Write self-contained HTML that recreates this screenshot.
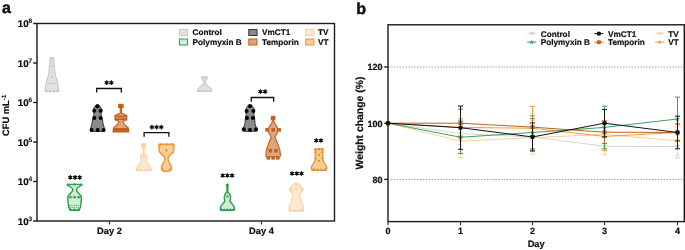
<!DOCTYPE html>
<html><head><meta charset="utf-8"><style>
html,body{margin:0;padding:0;background:#fff;}
svg{display:block;}
text{font-family:"Liberation Sans",sans-serif;font-weight:bold;fill:#111;text-rendering:geometricPrecision;stroke:#111;stroke-width:0.2px;}
.t9{font-size:9px;}
.t8{font-size:8.2px;}
.t93{font-size:9.3px;}
.t95{font-size:9.8px;}
.t104{font-size:10.4px;}
.t10{font-size:10px;}
.t5{font-size:6.5px;stroke-width:0.1px;}
.t6{font-size:6.3px;stroke-width:0.12px;}
.ast{font-size:12px;stroke:#111;stroke-width:0.35px;}
.lab{font-size:16px;stroke-width:0.5px;}
</style></head><body>
<div style="will-change:transform;width:685px;height:250px"><svg width="685" height="250" viewBox="0 0 685 250">
<text x="2" y="13.3" class="lab">a</text>
<text x="356.2" y="13.6" class="lab">b</text>
<path d="M53.10,57.60 L53.70,58.20 L54.10,64.00 L54.50,68.00 L54.90,72.00 L55.50,76.00 L56.50,78.00 L57.50,82.00 L58.30,86.00 L58.70,89.20 L58.70,91.30 L45.10,91.30 L45.10,89.20 L45.50,86.00 L46.30,82.00 L47.30,78.00 L48.30,76.00 L48.90,72.00 L49.30,68.00 L49.70,64.00 L50.10,58.20 L50.70,57.60 Z" fill="#e1e1e1" stroke="#c9c9c9" stroke-width="1.1" stroke-linejoin="round"/>
<path d="M81.60,184.40 L81.20,185.20 L79.60,186.40 L77.20,188.00 L76.40,189.60 L76.80,191.00 L78.00,192.60 L79.80,194.40 L80.90,196.00 L81.40,197.20 L81.30,200.00 L81.00,203.00 L80.70,206.00 L80.20,208.00 L79.40,209.50 L78.80,210.20 L70.40,210.20 L69.80,209.50 L69.00,208.00 L68.50,206.00 L68.20,203.00 L67.90,200.00 L67.80,197.20 L68.30,196.00 L69.40,194.40 L71.20,192.60 L72.40,191.00 L72.80,189.60 L72.00,188.00 L69.60,186.40 L68.00,185.20 L67.60,184.40 Z" fill="#d3ecd9" stroke="#2e9e50" stroke-width="1.4" stroke-linejoin="round"/>
<path d="M98.30,104.60 L99.10,105.00 L100.10,106.50 L101.40,108.50 L101.90,110.50 L101.50,112.50 L101.00,114.00 L101.40,116.00 L102.10,118.00 L102.70,121.00 L103.10,124.00 L104.00,127.00 L104.60,129.50 L104.60,131.40 L90.40,131.40 L90.40,129.50 L91.00,127.00 L91.90,124.00 L92.30,121.00 L92.90,118.00 L93.60,116.00 L94.00,114.00 L93.50,112.50 L93.10,110.50 L93.60,108.50 L94.90,106.50 L95.90,105.00 L96.70,104.60 Z" fill="#8a8a8a" stroke="#2a2a2a" stroke-width="0.9" stroke-linejoin="round"/>
<path d="M123.00,104.20 L123.00,107.80 L121.50,107.80 L121.50,113.20 L123.70,114.00 L126.80,115.60 L126.80,120.00 L124.50,120.40 L123.00,122.00 L123.70,123.60 L126.10,126.00 L128.30,128.00 L128.80,132.00 L113.00,132.00 L113.50,128.00 L115.70,126.00 L118.10,123.60 L118.80,122.00 L117.30,120.40 L115.00,120.00 L115.00,115.60 L118.10,114.00 L120.30,113.20 L120.30,107.80 L118.80,107.80 L118.80,104.20 Z" fill="#dea57a" stroke="#c0601a" stroke-width="1.1" stroke-linejoin="round"/>
<path d="M145.60,143.80 L145.60,147.00 L144.15,147.30 L144.20,153.50 L145.90,154.50 L146.70,155.50 L146.90,157.50 L146.30,159.00 L146.10,160.50 L147.10,162.50 L148.30,164.50 L149.90,166.50 L151.10,168.50 L151.10,170.50 L136.30,170.50 L136.30,168.50 L137.50,166.50 L139.10,164.50 L140.30,162.50 L141.30,160.50 L141.10,159.00 L140.50,157.50 L140.70,155.50 L141.50,154.50 L143.20,153.50 L143.25,147.30 L141.80,147.00 L141.80,143.80 Z" fill="#fde8d0" stroke="#fad3a4" stroke-width="1.1" stroke-linejoin="round"/>
<path d="M173.70,144.20 L174.00,145.00 L173.80,150.00 L173.20,152.00 L172.00,153.50 L170.20,155.00 L168.80,156.50 L168.20,158.00 L168.10,160.00 L169.00,162.00 L170.20,164.00 L171.00,166.00 L171.40,168.00 L171.20,169.50 L170.40,170.50 L169.20,171.20 L163.60,171.20 L162.40,170.50 L161.60,169.50 L161.40,168.00 L161.80,166.00 L162.60,164.00 L163.80,162.00 L164.70,160.00 L164.60,158.00 L164.00,156.50 L162.60,155.00 L160.80,153.50 L159.60,152.00 L159.00,150.00 L158.80,145.00 L159.10,144.20 Z" fill="#f9cd98" stroke="#ef952f" stroke-width="1.4" stroke-linejoin="round"/>
<path d="M207.50,76.80 L207.30,78.50 L206.00,80.40 L205.30,82.00 L205.30,83.60 L207.00,85.20 L209.40,87.20 L211.20,88.80 L211.90,90.30 L211.40,91.20 L197.80,91.20 L197.30,90.30 L198.00,88.80 L199.80,87.20 L202.20,85.20 L203.90,83.60 L203.90,82.00 L203.20,80.40 L201.90,78.50 L201.70,76.80 Z" fill="#e1e1e1" stroke="#c9c9c9" stroke-width="1.1" stroke-linejoin="round"/>
<path d="M227.80,185.50 L227.80,187.50 L227.90,192.30 L229.20,193.50 L230.10,194.80 L230.60,198.00 L229.80,201.00 L231.50,203.20 L233.40,205.40 L234.40,207.50 L234.40,209.50 L233.80,210.30 L221.00,210.30 L220.40,209.50 L220.40,207.50 L221.40,205.40 L223.30,203.20 L225.00,201.00 L224.20,198.00 L224.70,194.80 L225.60,193.50 L226.90,192.30 L227.00,187.50 L227.00,185.50 Z" fill="#d3ecd9" stroke="#2e9e50" stroke-width="1.4" stroke-linejoin="round"/>
<path d="M250.80,104.60 L251.60,105.00 L252.60,106.50 L253.90,108.50 L254.50,111.00 L254.00,113.00 L253.90,114.80 L254.60,118.00 L254.80,120.50 L255.10,123.80 L256.30,127.60 L256.90,129.50 L256.90,131.30 L243.10,131.30 L243.10,129.50 L243.70,127.60 L244.90,123.80 L245.20,120.50 L245.40,118.00 L246.10,114.80 L246.00,113.00 L245.50,111.00 L246.10,108.50 L247.40,106.50 L248.40,105.00 L249.20,104.60 Z" fill="#8a8a8a" stroke="#2a2a2a" stroke-width="0.9" stroke-linejoin="round"/>
<path d="M274.85,116.20 L274.85,119.70 L273.90,119.70 L273.90,122.00 L275.40,124.60 L277.30,127.20 L278.10,129.90 L277.50,132.50 L275.90,135.20 L275.00,137.40 L276.50,140.70 L278.10,145.20 L279.80,149.70 L280.40,154.20 L280.30,156.20 L279.70,156.80 L266.50,156.80 L265.90,156.20 L265.80,154.20 L266.40,149.70 L268.10,145.20 L269.70,140.70 L271.20,137.40 L270.30,135.20 L268.70,132.50 L268.10,129.90 L268.90,127.20 L270.80,124.60 L272.30,122.00 L272.30,119.70 L271.35,119.70 L271.35,116.20 Z" fill="#dea57a" stroke="#c0601a" stroke-width="1.1" stroke-linejoin="round"/>
<path d="M298.10,183.20 L299.50,184.80 L301.40,186.80 L303.30,189.00 L302.40,191.30 L300.10,193.80 L299.50,196.40 L300.70,198.80 L301.80,202.60 L303.30,206.40 L303.70,209.00 L303.30,211.00 L289.30,211.00 L288.90,209.00 L289.30,206.40 L290.80,202.60 L291.90,198.80 L293.10,196.40 L292.50,193.80 L290.20,191.30 L289.30,189.00 L291.20,186.80 L293.10,184.80 L294.50,183.20 Z" fill="#fde8d0" stroke="#fad3a4" stroke-width="1.1" stroke-linejoin="round"/>
<path d="M323.00,149.00 L322.35,152.00 L322.75,155.00 L322.35,158.00 L323.10,161.00 L325.00,164.00 L326.50,166.50 L326.50,169.00 L326.00,170.30 L312.00,170.30 L311.50,169.00 L311.50,166.50 L313.00,164.00 L314.90,161.00 L315.65,158.00 L315.25,155.00 L315.65,152.00 L315.00,149.00 Z" fill="#f9cd98" stroke="#ef952f" stroke-width="1.4" stroke-linejoin="round"/>
<circle cx="97.4" cy="106.4" r="2.0" fill="#000"/>
<circle cx="94.4" cy="110.8" r="2.0" fill="#000"/>
<circle cx="100.6" cy="110.8" r="2.0" fill="#000"/>
<circle cx="94.4" cy="118" r="2.0" fill="#000"/>
<circle cx="100.6" cy="118" r="2.0" fill="#000"/>
<circle cx="91.6" cy="130" r="2.0" fill="#000"/>
<circle cx="97.6" cy="130" r="2.0" fill="#000"/>
<circle cx="103.6" cy="130" r="2.0" fill="#000"/>
<circle cx="250" cy="106.2" r="2.0" fill="#000"/>
<circle cx="246.6" cy="110.9" r="2.0" fill="#000"/>
<circle cx="253.4" cy="110.9" r="2.0" fill="#000"/>
<circle cx="247" cy="118" r="2.0" fill="#000"/>
<circle cx="253" cy="118" r="2.0" fill="#000"/>
<circle cx="243.8" cy="129.3" r="2.0" fill="#000"/>
<circle cx="250" cy="130" r="2.0" fill="#000"/>
<circle cx="256" cy="129.3" r="2.0" fill="#000"/>
<path d="M67.80,182.70 L68.30,183.91 L69.61,184.01 L68.61,184.86 L68.92,186.14 L67.80,185.45 L66.68,186.14 L66.99,184.86 L65.99,184.01 L67.30,183.91 Z" fill="#2e9e50"/>
<path d="M74.60,182.50 L75.10,183.71 L76.41,183.81 L75.41,184.66 L75.72,185.94 L74.60,185.25 L73.48,185.94 L73.79,184.66 L72.79,183.81 L74.10,183.71 Z" fill="#2e9e50"/>
<path d="M81.40,182.70 L81.90,183.91 L83.21,184.01 L82.21,184.86 L82.52,186.14 L81.40,185.45 L80.28,186.14 L80.59,184.86 L79.59,184.01 L80.90,183.91 Z" fill="#2e9e50"/>
<path d="M70.40,195.30 L70.90,196.51 L72.21,196.61 L71.21,197.46 L71.52,198.74 L70.40,198.05 L69.28,198.74 L69.59,197.46 L68.59,196.61 L69.90,196.51 Z" fill="#2e9e50"/>
<path d="M74.60,195.30 L75.10,196.51 L76.41,196.61 L75.41,197.46 L75.72,198.74 L74.60,198.05 L73.48,198.74 L73.79,197.46 L72.79,196.61 L74.10,196.51 Z" fill="#2e9e50"/>
<path d="M78.80,195.30 L79.30,196.51 L80.61,196.61 L79.61,197.46 L79.92,198.74 L78.80,198.05 L77.68,198.74 L77.99,197.46 L76.99,196.61 L78.30,196.51 Z" fill="#2e9e50"/>
<path d="M70.60,207.70 L71.10,208.91 L72.41,209.01 L71.41,209.86 L71.72,211.14 L70.60,210.45 L69.48,211.14 L69.79,209.86 L68.79,209.01 L70.10,208.91 Z" fill="#2e9e50"/>
<path d="M74.60,208.00 L75.10,209.21 L76.41,209.31 L75.41,210.16 L75.72,211.44 L74.60,210.75 L73.48,211.44 L73.79,210.16 L72.79,209.31 L74.10,209.21 Z" fill="#2e9e50"/>
<path d="M78.60,207.70 L79.10,208.91 L80.41,209.01 L79.41,209.86 L79.72,211.14 L78.60,210.45 L77.48,211.14 L77.79,209.86 L76.79,209.01 L78.10,208.91 Z" fill="#2e9e50"/>
<path d="M227.30,182.80 L227.93,184.33 L229.58,184.46 L228.33,185.53 L228.71,187.14 L227.30,186.28 L225.89,187.14 L226.27,185.53 L225.02,184.46 L226.67,184.33 Z" fill="#2e9e50"/>
<path d="M227.40,194.60 L227.90,195.81 L229.21,195.91 L228.21,196.76 L228.52,198.04 L227.40,197.35 L226.28,198.04 L226.59,196.76 L225.59,195.91 L226.90,195.81 Z" fill="#2e9e50"/>
<path d="M221.40,207.70 L221.90,208.91 L223.21,209.01 L222.21,209.86 L222.52,211.14 L221.40,210.45 L220.28,211.14 L220.59,209.86 L219.59,209.01 L220.90,208.91 Z" fill="#2e9e50"/>
<path d="M224.40,208.10 L224.90,209.31 L226.21,209.41 L225.21,210.26 L225.52,211.54 L224.40,210.85 L223.28,211.54 L223.59,210.26 L222.59,209.41 L223.90,209.31 Z" fill="#2e9e50"/>
<path d="M227.40,208.10 L227.90,209.31 L229.21,209.41 L228.21,210.26 L228.52,211.54 L227.40,210.85 L226.28,211.54 L226.59,210.26 L225.59,209.41 L226.90,209.31 Z" fill="#2e9e50"/>
<path d="M230.40,208.10 L230.90,209.31 L232.21,209.41 L231.21,210.26 L231.52,211.54 L230.40,210.85 L229.28,211.54 L229.59,210.26 L228.59,209.41 L229.90,209.31 Z" fill="#2e9e50"/>
<path d="M233.40,207.70 L233.90,208.91 L235.21,209.01 L234.21,209.86 L234.52,211.14 L233.40,210.45 L232.28,211.14 L232.59,209.86 L231.59,209.01 L232.90,208.91 Z" fill="#2e9e50"/>
<path d="M160.2,143.0 L161.79999999999998,144.6 L160.2,146.2 L158.6,144.6 Z" fill="#ef952f"/>
<path d="M166.3,142.8 L167.9,144.4 L166.3,146.0 L164.70000000000002,144.4 Z" fill="#ef952f"/>
<path d="M172.3,143.0 L173.9,144.6 L172.3,146.2 L170.70000000000002,144.6 Z" fill="#ef952f"/>
<path d="M166.3,148.70000000000002 L167.9,150.3 L166.3,151.9 L164.70000000000002,150.3 Z" fill="#ef952f"/>
<path d="M162.3,168.0 L163.9,169.6 L162.3,171.2 L160.70000000000002,169.6 Z" fill="#ef952f"/>
<path d="M170.5,168.0 L172.1,169.6 L170.5,171.2 L168.9,169.6 Z" fill="#ef952f"/>
<path d="M315.3,148.0 L316.90000000000003,149.6 L315.3,151.2 L313.7,149.6 Z" fill="#ef952f"/>
<path d="M319,147.8 L320.6,149.4 L319,151.0 L317.4,149.4 Z" fill="#ef952f"/>
<path d="M322.7,148.0 L324.3,149.6 L322.7,151.2 L321.09999999999997,149.6 Z" fill="#ef952f"/>
<path d="M319,153.4 L320.6,155 L319,156.6 L317.4,155 Z" fill="#ef952f"/>
<path d="M315.5,150.6 L317.1,152.2 L315.5,153.79999999999998 L313.9,152.2 Z" fill="#ef952f"/>
<path d="M322.5,150.6 L324.1,152.2 L322.5,153.79999999999998 L320.9,152.2 Z" fill="#ef952f"/>
<path d="M315.4,156.6 L317.0,158.2 L315.4,159.79999999999998 L313.79999999999995,158.2 Z" fill="#ef952f"/>
<path d="M322.6,156.6 L324.20000000000005,158.2 L322.6,159.79999999999998 L321.0,158.2 Z" fill="#ef952f"/>
<path d="M319,159.4 L320.6,161 L319,162.6 L317.4,161 Z" fill="#ef952f"/>
<path d="M313.6,167.8 L315.20000000000005,169.4 L313.6,171.0 L312.0,169.4 Z" fill="#ef952f"/>
<path d="M317.5,168.3 L319.1,169.9 L317.5,171.5 L315.9,169.9 Z" fill="#ef952f"/>
<path d="M321.5,168.3 L323.1,169.9 L321.5,171.5 L319.9,169.9 Z" fill="#ef952f"/>
<path d="M325.4,167.8 L327.0,169.4 L325.4,171.0 L323.79999999999995,169.4 Z" fill="#ef952f"/>
<path d="M143.7,155.6 L145.1,157 L143.7,158.4 L142.29999999999998,157 Z" fill="#f8cf9c"/>
<path d="M137.5,168.79999999999998 L138.9,170.2 L137.5,171.6 L136.1,170.2 Z" fill="#f8cf9c"/>
<path d="M141.5,169.1 L142.9,170.5 L141.5,171.9 L140.1,170.5 Z" fill="#f8cf9c"/>
<path d="M145.5,169.1 L146.9,170.5 L145.5,171.9 L144.1,170.5 Z" fill="#f8cf9c"/>
<path d="M149.5,168.79999999999998 L150.9,170.2 L149.5,171.6 L148.1,170.2 Z" fill="#f8cf9c"/>
<path d="M296.3,183.2 L297.7,184.6 L296.3,186.0 L294.90000000000003,184.6 Z" fill="#f8cf9c"/>
<path d="M296.3,187.6 L297.7,189 L296.3,190.4 L294.90000000000003,189 Z" fill="#f8cf9c"/>
<path d="M291,188.6 L292.4,190 L291,191.4 L289.6,190 Z" fill="#f8cf9c"/>
<path d="M301.6,188.6 L303.0,190 L301.6,191.4 L300.20000000000005,190 Z" fill="#f8cf9c"/>
<path d="M290.8,209.1 L292.2,210.5 L290.8,211.9 L289.40000000000003,210.5 Z" fill="#f8cf9c"/>
<path d="M294.6,209.4 L296.0,210.8 L294.6,212.20000000000002 L293.20000000000005,210.8 Z" fill="#f8cf9c"/>
<path d="M298.4,209.4 L299.79999999999995,210.8 L298.4,212.20000000000002 L297.0,210.8 Z" fill="#f8cf9c"/>
<path d="M302.2,209.1 L303.59999999999997,210.5 L302.2,211.9 L300.8,210.5 Z" fill="#f8cf9c"/>
<path d="M50.5,58.02 L53.3,58.02 L51.9,60.26 Z" fill="#c4c4c4"/>
<path d="M50.5,65.02 L53.3,65.02 L51.9,67.26 Z" fill="#c4c4c4"/>
<path d="M50.5,76.61999999999999 L53.3,76.61999999999999 L51.9,78.86 Z" fill="#c4c4c4"/>
<path d="M45.1,90.61999999999999 L47.9,90.61999999999999 L46.5,92.86 Z" fill="#c4c4c4"/>
<path d="M48.800000000000004,90.82 L51.6,90.82 L50.2,93.06 Z" fill="#c4c4c4"/>
<path d="M52.4,90.82 L55.199999999999996,90.82 L53.8,93.06 Z" fill="#c4c4c4"/>
<path d="M56.0,90.61999999999999 L58.8,90.61999999999999 L57.4,92.86 Z" fill="#c4c4c4"/>
<path d="M203.2,77.02 L206.0,77.02 L204.6,79.26 Z" fill="#c4c4c4"/>
<path d="M197.5,89.92 L200.3,89.92 L198.9,92.16000000000001 Z" fill="#c4c4c4"/>
<path d="M201.29999999999998,90.22 L204.1,90.22 L202.7,92.46000000000001 Z" fill="#c4c4c4"/>
<path d="M205.1,90.22 L207.9,90.22 L206.5,92.46000000000001 Z" fill="#c4c4c4"/>
<path d="M208.9,89.92 L211.70000000000002,89.92 L210.3,92.16000000000001 Z" fill="#c4c4c4"/>
<line x1="68.19999999999999" y1="197.2" x2="81.0" y2="197.2" stroke="#2e9e50" stroke-width="0.8" stroke-dasharray="1.3,0.9"/>
<line x1="68.89999999999999" y1="205.4" x2="80.3" y2="205.4" stroke="#2e9e50" stroke-width="0.8" stroke-dasharray="1.3,0.9"/>
<line x1="69.3" y1="207.4" x2="79.89999999999999" y2="207.4" stroke="#2e9e50" stroke-width="0.8" stroke-dasharray="1.3,0.9"/>
<line x1="46.5" y1="83.4" x2="57.3" y2="83.4" stroke="#c8c8c8" stroke-width="0.9"/>
<rect x="141.9" y="143.9" width="3.6" height="3.2" fill="#f9cf9e"/>
<rect x="118.6" y="104.2" width="4.2" height="3.6" fill="#c0601a"/>
<rect x="115.0" y="115.6" width="11.8" height="1.7" fill="#c0601a"/>
<rect x="115.0" y="118.4" width="11.8" height="1.6" fill="#c0601a"/>
<rect x="113.0" y="128.0" width="15.8" height="4.0" fill="#c0601a"/>
<rect x="271.4" y="116.2" width="3.5" height="3.5" fill="#c0601a"/>
<rect x="265.2" y="128.1" width="3.5" height="3.5" fill="#c0601a"/>
<rect x="271.4" y="128.1" width="3.5" height="3.5" fill="#c0601a"/>
<rect x="277.5" y="128.1" width="3.5" height="3.5" fill="#c0601a"/>
<rect x="268.6" y="149.1" width="3.4" height="3.4" fill="#c0601a"/>
<rect x="274.2" y="149.1" width="3.4" height="3.4" fill="#c0601a"/>
<rect x="266.6" y="156.6" width="3.6" height="3.0" fill="#c0601a"/>
<rect x="271.3" y="156.6" width="3.6" height="3.0" fill="#c0601a"/>
<rect x="276.0" y="156.6" width="3.6" height="3.0" fill="#c0601a"/>
<rect x="37" y="23.5" width="297.5" height="197.5" fill="none" stroke="#1a1a1a" stroke-width="1.4"/>
<line x1="33.2" y1="23.5" x2="37" y2="23.5" stroke="#1a1a1a" stroke-width="1.4"/>
<text x="28.6" y="27.1" text-anchor="end" class="t95">10</text>
<text x="28.6" y="23.0" class="t5">8</text>
<line x1="33.2" y1="63.0" x2="37" y2="63.0" stroke="#1a1a1a" stroke-width="1.4"/>
<text x="28.6" y="66.6" text-anchor="end" class="t95">10</text>
<text x="28.6" y="62.5" class="t5">7</text>
<line x1="33.2" y1="102.5" x2="37" y2="102.5" stroke="#1a1a1a" stroke-width="1.4"/>
<text x="28.6" y="106.1" text-anchor="end" class="t95">10</text>
<text x="28.6" y="102.0" class="t5">6</text>
<line x1="33.2" y1="142.0" x2="37" y2="142.0" stroke="#1a1a1a" stroke-width="1.4"/>
<text x="28.6" y="145.6" text-anchor="end" class="t95">10</text>
<text x="28.6" y="141.5" class="t5">5</text>
<line x1="33.2" y1="181.5" x2="37" y2="181.5" stroke="#1a1a1a" stroke-width="1.4"/>
<text x="28.6" y="185.1" text-anchor="end" class="t95">10</text>
<text x="28.6" y="181.0" class="t5">4</text>
<line x1="33.2" y1="221.0" x2="37" y2="221.0" stroke="#1a1a1a" stroke-width="1.4"/>
<text x="28.6" y="224.6" text-anchor="end" class="t95">10</text>
<text x="28.6" y="220.5" class="t5">3</text>
<line x1="109.5" y1="221" x2="109.5" y2="224.5" stroke="#333" stroke-width="1.2"/>
<text x="109.5" y="234.3" text-anchor="middle" class="t93">Day 2</text>
<line x1="261.5" y1="221" x2="261.5" y2="224.5" stroke="#333" stroke-width="1.2"/>
<text x="261.5" y="234.3" text-anchor="middle" class="t93">Day 4</text>
<text transform="translate(9.2,135.9) rotate(-90)" class="t93">CFU mL<tspan class="t6" dy="-3.3">-1</tspan></text>
<path d="M96.7,92.4 L96.7,88.5 L121.3,88.5 L121.3,92.4" fill="none" stroke="#111" stroke-width="1.3"/>
<path d="M144.1,136.7 L144.1,132.6 L168.9,132.6 L168.9,136.7" fill="none" stroke="#111" stroke-width="1.3"/>
<path d="M251.3,101.7 L251.3,97.5 L273.7,97.5 L273.7,101.7" fill="none" stroke="#111" stroke-width="1.3"/>
<path d="M106.65,80.35 L106.65,85.05 M104.61,81.53 L108.69,83.88 M108.69,81.53 L104.61,83.88 " stroke="#111" stroke-width="1.15" fill="none"/><circle cx="106.65" cy="82.7" r="1.35" fill="#111"/>
<path d="M111.35,80.35 L111.35,85.05 M109.31,81.53 L113.39,83.88 M113.39,81.53 L109.31,83.88 " stroke="#111" stroke-width="1.15" fill="none"/><circle cx="111.35" cy="82.7" r="1.35" fill="#111"/>
<path d="M151.90,124.75 L151.90,129.45 M149.86,125.92 L153.94,128.28 M153.94,125.92 L149.86,128.28 " stroke="#111" stroke-width="1.15" fill="none"/><circle cx="151.90" cy="127.1" r="1.35" fill="#111"/>
<path d="M156.60,124.75 L156.60,129.45 M154.56,125.92 L158.64,128.28 M158.64,125.92 L154.56,128.28 " stroke="#111" stroke-width="1.15" fill="none"/><circle cx="156.60" cy="127.1" r="1.35" fill="#111"/>
<path d="M161.30,124.75 L161.30,129.45 M159.26,125.92 L163.34,128.28 M163.34,125.92 L159.26,128.28 " stroke="#111" stroke-width="1.15" fill="none"/><circle cx="161.30" cy="127.1" r="1.35" fill="#111"/>
<path d="M260.45,89.25 L260.45,93.95 M258.41,90.42 L262.49,92.77 M262.49,90.42 L258.41,92.77 " stroke="#111" stroke-width="1.15" fill="none"/><circle cx="260.45" cy="91.6" r="1.35" fill="#111"/>
<path d="M265.15,89.25 L265.15,93.95 M263.11,90.42 L267.19,92.77 M267.19,90.42 L263.11,92.77 " stroke="#111" stroke-width="1.15" fill="none"/><circle cx="265.15" cy="91.6" r="1.35" fill="#111"/>
<path d="M70.30,175.05 L70.30,179.75 M68.26,176.22 L72.34,178.58 M72.34,176.22 L68.26,178.58 " stroke="#111" stroke-width="1.15" fill="none"/><circle cx="70.30" cy="177.4" r="1.35" fill="#111"/>
<path d="M75.00,175.05 L75.00,179.75 M72.96,176.22 L77.04,178.58 M77.04,176.22 L72.96,178.58 " stroke="#111" stroke-width="1.15" fill="none"/><circle cx="75.00" cy="177.4" r="1.35" fill="#111"/>
<path d="M79.70,175.05 L79.70,179.75 M77.66,176.22 L81.74,178.58 M81.74,176.22 L77.66,178.58 " stroke="#111" stroke-width="1.15" fill="none"/><circle cx="79.70" cy="177.4" r="1.35" fill="#111"/>
<path d="M222.70,173.15 L222.70,177.85 M220.66,174.32 L224.74,176.68 M224.74,174.32 L220.66,176.68 " stroke="#111" stroke-width="1.15" fill="none"/><circle cx="222.70" cy="175.5" r="1.35" fill="#111"/>
<path d="M227.40,173.15 L227.40,177.85 M225.36,174.32 L229.44,176.68 M229.44,174.32 L225.36,176.68 " stroke="#111" stroke-width="1.15" fill="none"/><circle cx="227.40" cy="175.5" r="1.35" fill="#111"/>
<path d="M232.10,173.15 L232.10,177.85 M230.06,174.32 L234.14,176.68 M234.14,174.32 L230.06,176.68 " stroke="#111" stroke-width="1.15" fill="none"/><circle cx="232.10" cy="175.5" r="1.35" fill="#111"/>
<path d="M292.10,171.15 L292.10,175.85 M290.06,172.32 L294.14,174.68 M294.14,172.32 L290.06,174.68 " stroke="#111" stroke-width="1.15" fill="none"/><circle cx="292.10" cy="173.5" r="1.35" fill="#111"/>
<path d="M296.80,171.15 L296.80,175.85 M294.76,172.32 L298.84,174.68 M298.84,172.32 L294.76,174.68 " stroke="#111" stroke-width="1.15" fill="none"/><circle cx="296.80" cy="173.5" r="1.35" fill="#111"/>
<path d="M301.50,171.15 L301.50,175.85 M299.46,172.32 L303.54,174.68 M303.54,172.32 L299.46,174.68 " stroke="#111" stroke-width="1.15" fill="none"/><circle cx="301.50" cy="173.5" r="1.35" fill="#111"/>
<path d="M316.25,138.15 L316.25,142.85 M314.21,139.32 L318.29,141.68 M318.29,139.32 L314.21,141.68 " stroke="#111" stroke-width="1.15" fill="none"/><circle cx="316.25" cy="140.5" r="1.35" fill="#111"/>
<path d="M320.95,138.15 L320.95,142.85 M318.91,139.32 L322.99,141.68 M322.99,139.32 L318.91,141.68 " stroke="#111" stroke-width="1.15" fill="none"/><circle cx="320.95" cy="140.5" r="1.35" fill="#111"/>
<rect x="179.4" y="29.5" width="8.2" height="6" fill="#e1e1e1" stroke="#c9c9c9" stroke-width="1"/>
<text x="192.6" y="35.2" class="t8">Control</text>
<rect x="179.4" y="39.0" width="8.2" height="6" fill="#d3ecd9" stroke="#2e9e50" stroke-width="1"/>
<text x="192.6" y="44.7" class="t8">Polymyxin B</text>
<rect x="248.8" y="29.5" width="8.2" height="6" fill="#8a8a8a" stroke="#333" stroke-width="1"/>
<text x="262.0" y="35.2" class="t8">VmCT1</text>
<rect x="248.8" y="39.0" width="8.2" height="6" fill="#dea57a" stroke="#c0601a" stroke-width="1"/>
<text x="262.0" y="44.7" class="t8">Temporin</text>
<rect x="305.7" y="29.5" width="8.2" height="6" fill="#fde8d0" stroke="#fad3a4" stroke-width="1"/>
<text x="318.0" y="35.2" class="t8">TV</text>
<rect x="305.7" y="39.0" width="8.2" height="6" fill="#f9cd98" stroke="#ef952f" stroke-width="1"/>
<text x="318.0" y="44.7" class="t8">VT</text>
<line x1="388" y1="67.0" x2="684" y2="67.0" stroke="#9a9a9a" stroke-width="1.0" stroke-dasharray="1.45,1.45"/>
<line x1="388" y1="179.4" x2="684" y2="179.4" stroke="#9a9a9a" stroke-width="1.0" stroke-dasharray="1.45,1.45"/>
<polyline points="388.00,123.20 460.50,133.60 532.50,136.97 604.50,146.24 677.50,146.52" fill="none" stroke="#d4d4d4" stroke-width="1"/>
<path d="M460.50,122.36 L460.50,144.84 M457.90,122.36 L463.10,122.36 M457.90,144.84 L463.10,144.84" stroke="#d4d4d4" stroke-width="1" fill="none"/>
<path d="M532.50,125.73 L532.50,148.21 M529.90,125.73 L535.10,125.73 M529.90,148.21 L535.10,148.21" stroke="#d4d4d4" stroke-width="1" fill="none"/>
<path d="M604.50,137.81 L604.50,154.67 M601.90,137.81 L607.10,137.81 M601.90,154.67 L607.10,154.67" stroke="#d4d4d4" stroke-width="1" fill="none"/>
<path d="M677.50,135.28 L677.50,157.76 M674.90,135.28 L680.10,135.28 M674.90,157.76 L680.10,157.76" stroke="#d4d4d4" stroke-width="1" fill="none"/>
<path d="M385.40,121.38 L390.60,121.38 L388.00,125.54 Z" fill="#d4d4d4"/>
<path d="M457.90,131.78 L463.10,131.78 L460.50,135.94 Z" fill="#d4d4d4"/>
<path d="M529.90,135.15 L535.10,135.15 L532.50,139.31 Z" fill="#d4d4d4"/>
<path d="M601.90,144.42 L607.10,144.42 L604.50,148.58 Z" fill="#d4d4d4"/>
<path d="M674.90,144.70 L680.10,144.70 L677.50,148.86 Z" fill="#d4d4d4"/>
<polyline points="388.00,123.20 460.50,141.18 532.50,137.53 604.50,134.44 677.50,140.90" fill="none" stroke="#fbd2a2" stroke-width="1"/>
<path d="M460.50,124.32 L460.50,158.04 M457.90,124.32 L463.10,124.32 M457.90,158.04 L463.10,158.04" stroke="#fbd2a2" stroke-width="1" fill="none"/>
<path d="M532.50,120.67 L532.50,154.39 M529.90,120.67 L535.10,120.67 M529.90,154.39 L535.10,154.39" stroke="#fbd2a2" stroke-width="1" fill="none"/>
<path d="M604.50,120.39 L604.50,148.49 M601.90,120.39 L607.10,120.39 M601.90,148.49 L607.10,148.49" stroke="#fbd2a2" stroke-width="1" fill="none"/>
<path d="M677.50,126.85 L677.50,154.95 M674.90,126.85 L680.10,126.85 M674.90,154.95 L680.10,154.95" stroke="#fbd2a2" stroke-width="1" fill="none"/>
<path d="M385.40,121.38 L390.60,121.38 L388.00,125.54 Z" fill="#fbd2a2"/>
<path d="M457.90,139.36 L463.10,139.36 L460.50,143.52 Z" fill="#fbd2a2"/>
<path d="M529.90,135.71 L535.10,135.71 L532.50,139.87 Z" fill="#fbd2a2"/>
<path d="M601.90,132.62 L607.10,132.62 L604.50,136.78 Z" fill="#fbd2a2"/>
<path d="M674.90,139.08 L680.10,139.08 L677.50,143.24 Z" fill="#fbd2a2"/>
<polyline points="388.00,123.20 460.50,127.42 532.50,128.26 604.50,136.41 677.50,132.47" fill="none" stroke="#f29a38" stroke-width="1"/>
<path d="M460.50,118.98 L460.50,135.84 M457.90,118.98 L463.10,118.98 M457.90,135.84 L463.10,135.84" stroke="#f29a38" stroke-width="1" fill="none"/>
<path d="M532.50,106.34 L532.50,150.18 M529.90,106.34 L535.10,106.34 M529.90,150.18 L535.10,150.18" stroke="#f29a38" stroke-width="1" fill="none"/>
<path d="M604.50,122.36 L604.50,150.46 M601.90,122.36 L607.10,122.36 M601.90,150.46 L607.10,150.46" stroke="#f29a38" stroke-width="1" fill="none"/>
<path d="M677.50,124.04 L677.50,140.90 M674.90,124.04 L680.10,124.04 M674.90,140.90 L680.10,140.90" stroke="#f29a38" stroke-width="1" fill="none"/>
<path d="M388.00,121.20 L390.00,123.20 L388.00,125.20 L386.00,123.20 Z" fill="#f29a38"/>
<path d="M460.50,125.42 L462.50,127.42 L460.50,129.42 L458.50,127.42 Z" fill="#f29a38"/>
<path d="M532.50,126.26 L534.50,128.26 L532.50,130.26 L530.50,128.26 Z" fill="#f29a38"/>
<path d="M604.50,134.41 L606.50,136.41 L604.50,138.41 L602.50,136.41 Z" fill="#f29a38"/>
<path d="M677.50,130.47 L679.50,132.47 L677.50,134.47 L675.50,132.47 Z" fill="#f29a38"/>
<polyline points="388.00,123.20 460.50,137.25 532.50,132.47 604.50,127.42 677.50,118.98" fill="none" stroke="#3aa35a" stroke-width="1"/>
<path d="M460.50,120.95 L460.50,153.55 M457.90,120.95 L463.10,120.95 M457.90,153.55 L463.10,153.55" stroke="#3aa35a" stroke-width="1" fill="none"/>
<path d="M532.50,115.89 L532.50,149.05 M529.90,115.89 L535.10,115.89 M529.90,149.05 L535.10,149.05" stroke="#3aa35a" stroke-width="1" fill="none"/>
<path d="M604.50,106.06 L604.50,148.77 M601.90,106.06 L607.10,106.06 M601.90,148.77 L607.10,148.77" stroke="#3aa35a" stroke-width="1" fill="none"/>
<path d="M677.50,97.07 L677.50,140.90 M674.90,97.07 L680.10,97.07 M674.90,140.90 L680.10,140.90" stroke="#3aa35a" stroke-width="1" fill="none"/>
<path d="M388.00,120.50 L388.65,122.31 L390.57,122.37 L389.05,123.54 L389.59,125.38 L388.00,124.30 L386.41,125.38 L386.95,123.54 L385.43,122.37 L387.35,122.31 Z" fill="#3aa35a"/>
<path d="M460.50,134.55 L461.15,136.36 L463.07,136.42 L461.55,137.59 L462.09,139.43 L460.50,138.35 L458.91,139.43 L459.45,137.59 L457.93,136.42 L459.85,136.36 Z" fill="#3aa35a"/>
<path d="M532.50,129.77 L533.15,131.58 L535.07,131.64 L533.55,132.81 L534.09,134.66 L532.50,133.57 L530.91,134.66 L531.45,132.81 L529.93,131.64 L531.85,131.58 Z" fill="#3aa35a"/>
<path d="M604.50,124.72 L605.15,126.53 L607.07,126.58 L605.55,127.75 L606.09,129.60 L604.50,128.52 L602.91,129.60 L603.45,127.75 L601.93,126.58 L603.85,126.53 Z" fill="#3aa35a"/>
<path d="M677.50,116.28 L678.15,118.10 L680.07,118.15 L678.55,119.32 L679.09,121.17 L677.50,120.08 L675.91,121.17 L676.45,119.32 L674.93,118.15 L676.85,118.10 Z" fill="#3aa35a"/>
<polyline points="388.00,123.20 460.50,123.20 532.50,127.13 604.50,132.19 677.50,132.47" fill="none" stroke="#c0601a" stroke-width="1"/>
<path d="M460.50,109.15 L460.50,137.25 M457.90,109.15 L463.10,109.15 M457.90,137.25 L463.10,137.25" stroke="#c0601a" stroke-width="1" fill="none"/>
<path d="M532.50,118.70 L532.50,135.56 M529.90,118.70 L535.10,118.70 M529.90,135.56 L535.10,135.56" stroke="#c0601a" stroke-width="1" fill="none"/>
<path d="M604.50,120.95 L604.50,143.43 M601.90,120.95 L607.10,120.95 M601.90,143.43 L607.10,143.43" stroke="#c0601a" stroke-width="1" fill="none"/>
<path d="M677.50,124.04 L677.50,140.90 M674.90,124.04 L680.10,124.04 M674.90,140.90 L680.10,140.90" stroke="#c0601a" stroke-width="1" fill="none"/>
<rect x="386.00" y="121.20" width="4.00" height="4.00" fill="#c0601a"/>
<rect x="458.50" y="121.20" width="4.00" height="4.00" fill="#c0601a"/>
<rect x="530.50" y="125.13" width="4.00" height="4.00" fill="#c0601a"/>
<rect x="602.50" y="130.19" width="4.00" height="4.00" fill="#c0601a"/>
<rect x="675.50" y="130.47" width="4.00" height="4.00" fill="#c0601a"/>
<polyline points="388.00,123.20 460.50,127.70 532.50,136.97 604.50,123.20 677.50,132.47" fill="none" stroke="#111111" stroke-width="1"/>
<path d="M460.50,106.06 L460.50,149.33 M457.90,106.06 L463.10,106.06 M457.90,149.33 L463.10,149.33" stroke="#111111" stroke-width="1" fill="none"/>
<path d="M532.50,122.92 L532.50,151.02 M529.90,122.92 L535.10,122.92 M529.90,151.02 L535.10,151.02" stroke="#111111" stroke-width="1" fill="none"/>
<path d="M604.50,109.43 L604.50,136.97 M601.90,109.43 L607.10,109.43 M601.90,136.97 L607.10,136.97" stroke="#111111" stroke-width="1" fill="none"/>
<path d="M677.50,116.17 L677.50,148.77 M674.90,116.17 L680.10,116.17 M674.90,148.77 L680.10,148.77" stroke="#111111" stroke-width="1" fill="none"/>
<circle cx="388.00" cy="123.20" r="2.3" fill="#111111"/>
<circle cx="460.50" cy="127.70" r="2.3" fill="#111111"/>
<circle cx="532.50" cy="136.97" r="2.3" fill="#111111"/>
<circle cx="604.50" cy="123.20" r="2.3" fill="#111111"/>
<circle cx="677.50" cy="132.47" r="2.3" fill="#111111"/>
<rect x="388" y="24.8" width="296.3" height="196.8" fill="none" stroke="#1a1a1a" stroke-width="1.4"/>
<line x1="384.3" y1="67.0" x2="388" y2="67.0" stroke="#1a1a1a" stroke-width="1.4"/>
<text x="382.6" y="70.3" text-anchor="end" class="t9">120</text>
<line x1="384.3" y1="123.2" x2="388" y2="123.2" stroke="#1a1a1a" stroke-width="1.4"/>
<text x="382.6" y="126.5" text-anchor="end" class="t9">100</text>
<line x1="384.3" y1="179.4" x2="388" y2="179.4" stroke="#1a1a1a" stroke-width="1.4"/>
<text x="382.6" y="182.7" text-anchor="end" class="t9">80</text>
<line x1="388.00" y1="221.6" x2="388.00" y2="225.2" stroke="#333" stroke-width="1.2"/>
<text x="388.00" y="233.8" text-anchor="middle" class="t9">0</text>
<line x1="460.50" y1="221.6" x2="460.50" y2="225.2" stroke="#333" stroke-width="1.2"/>
<text x="460.50" y="233.8" text-anchor="middle" class="t9">1</text>
<line x1="532.50" y1="221.6" x2="532.50" y2="225.2" stroke="#333" stroke-width="1.2"/>
<text x="532.50" y="233.8" text-anchor="middle" class="t9">2</text>
<line x1="604.50" y1="221.6" x2="604.50" y2="225.2" stroke="#333" stroke-width="1.2"/>
<text x="604.50" y="233.8" text-anchor="middle" class="t9">3</text>
<line x1="677.50" y1="221.6" x2="677.50" y2="225.2" stroke="#333" stroke-width="1.2"/>
<text x="677.50" y="233.8" text-anchor="middle" class="t9">4</text>
<text x="536.2" y="246.5" text-anchor="middle" class="t93">Day</text>
<text transform="translate(363.4,123) rotate(-90)" text-anchor="middle" class="t104">Weight change (%)</text>
<line x1="527.2" y1="33.6" x2="536.2" y2="33.6" stroke="#d4d4d4" stroke-width="1"/>
<path d="M529.23,31.87 L534.17,31.87 L531.70,35.82 Z" fill="#d4d4d4"/>
<text x="540.8000000000001" y="36.6" class="t8">Control</text>
<line x1="527.2" y1="42.2" x2="536.2" y2="42.2" stroke="#3aa35a" stroke-width="1"/>
<path d="M531.70,39.64 L532.31,41.35 L534.14,41.41 L532.69,42.52 L533.21,44.28 L531.70,43.25 L530.19,44.28 L530.71,42.52 L529.26,41.41 L531.09,41.35 Z" fill="#3aa35a"/>
<text x="540.8000000000001" y="45.2" class="t8">Polymyxin B</text>
<line x1="594.4" y1="33.6" x2="603.4" y2="33.6" stroke="#111111" stroke-width="1"/>
<circle cx="598.90" cy="33.60" r="2.1999999999999997" fill="#111111"/>
<text x="608.0" y="36.6" class="t8">VmCT1</text>
<line x1="594.4" y1="42.2" x2="603.4" y2="42.2" stroke="#c0601a" stroke-width="1"/>
<rect x="597.00" y="40.30" width="3.80" height="3.80" fill="#c0601a"/>
<text x="608.0" y="45.2" class="t8">Temporin</text>
<line x1="655.2" y1="33.6" x2="664.2" y2="33.6" stroke="#fbd2a2" stroke-width="1"/>
<path d="M657.23,31.87 L662.17,31.87 L659.70,35.82 Z" fill="#fbd2a2"/>
<text x="668.2" y="36.6" class="t8">TV</text>
<line x1="655.2" y1="42.2" x2="664.2" y2="42.2" stroke="#f29a38" stroke-width="1"/>
<path d="M659.70,40.30 L661.60,42.20 L659.70,44.10 L657.80,42.20 Z" fill="#f29a38"/>
<text x="668.2" y="45.2" class="t8">VT</text>
</svg></div>
</body></html>
